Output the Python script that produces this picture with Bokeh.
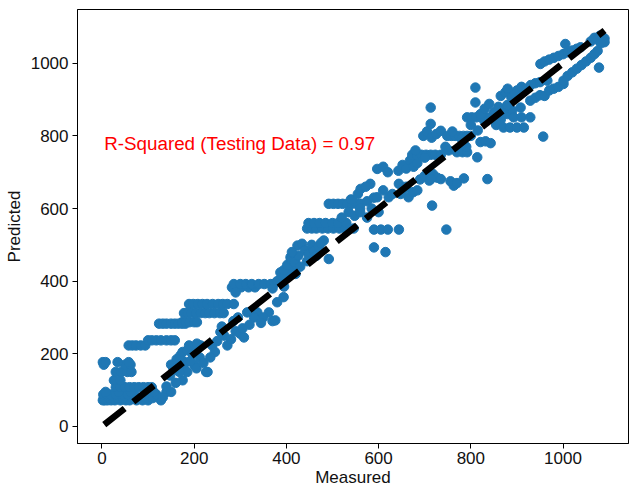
from bokeh.plotting import figure
from bokeh.models import Range1d, FixedTicker, Label, ColumnDataSource
from bokeh.embed import file_html
from bokeh.resources import INLINE

# ---- data ----
ticks = [0, 200, 400, 600, 800, 1000]
r2_text = "R-Squared (Testing Data) = 0.97"

# low region: (measured, predicted)
seg_low = [
    (2, 72), (6, 72), (12, 72), (20, 72), (28, 72), (40, 72), (52, 72), (60, 72), (75, 72), (88, 72), (100, 72), (128, 72),
    (4, 78), (16, 78), (24, 78), (34, 78), (46, 78), (66, 78), (82, 78), (95, 78), (110, 78),
    (3, 88), (10, 88), (18, 88), (30, 88), (44, 88), (56, 88), (70, 88), (92, 88), (118, 88),
    (8, 95), (36, 95), (62, 95), (112, 95), (140, 95),
    (30, 108), (40, 108), (50, 108), (60, 108), (70, 108), (80, 108), (90, 108), (100, 108), (108, 108),
    (26, 127), (40, 127), (175, 127),
    (30, 150), (42, 150), (55, 150), (64, 150), (229, 150),
    (4, 170), (50, 170), (62, 170), (150, 170), (200, 170),
    (2, 177), (8, 177), (34, 177), (58, 177), (180, 177),
    (148, 140), (155, 160), (162, 185), (170, 195), (178, 170), (185, 150), (192, 180), (198, 205),
    (205, 160), (212, 190), (220, 175), (226, 150), (160, 120), (175, 205), (150, 95), (140, 110),
    (132, 80), (168, 150),
    (58, 223), (66, 223), (74, 223), (84, 223), (94, 223), (189, 223), (214, 223),
    (100, 237), (108, 237), (118, 237), (128, 237), (140, 237), (150, 237), (158, 237),
    (124, 283), (132, 283), (140, 283), (150, 283), (158, 283), (166, 283), (174, 283), (181, 283),
    (174, 287), (182, 287), (190, 287), (200, 287), (206, 287),
    (178, 312), (186, 312), (194, 312), (204, 312), (214, 312), (224, 312), (233, 312), (244, 312), (256, 312), (264, 312),
    (189, 337), (198, 337), (208, 337), (218, 337), (228, 337), (240, 337), (252, 337), (262, 337), (272, 337), (286, 337),
    (185, 210), (196, 200), (206, 228), (239, 223), (250, 235), (257, 260), (265, 250), (272, 223),
    (280, 240), (290, 262), (300, 255), (308, 245), (245, 205), (235, 190), (260, 275), (285, 290),
    (295, 300), (315, 314), (337, 314), (362, 314), (350, 300), (370, 290), (376, 292), (330, 300),
    (345, 285), (320, 280), (305, 270),
]

seg_mid = [
    (282, 383), (292, 383), (302, 383), (318, 383), (332, 383),
    (286, 392), (300, 392), (312, 392), (325, 392), (340, 392), (352, 392), (366, 392), (373, 392),
    (290, 369), (380, 342), (394, 356), (387, 424), (409, 466), (424, 498), (400, 410), (415, 440),
    (380, 400), (370, 380), (395, 385), (405, 430), (418, 455), (390, 415),
    (394, 430), (402, 445), (410, 460), (418, 452), (426, 470), (434, 503), (440, 485), (448, 475),
    (455, 500), (460, 484), (470, 495), (481, 512), (492, 461), (420, 420), (430, 440), (412, 480),
    (445, 455), (465, 470), (475, 505),
    (445, 545), (455, 545), (465, 545), (478, 545), (490, 545), (502, 545), (515, 545), (528, 545), (546, 545),
    (448, 560), (460, 560), (472, 560), (485, 560), (500, 560), (512, 560), (530, 560),
    (590, 542), (605, 542), (620, 542), (644, 542),
    (590, 493), (615, 480),
    (492, 613), (502, 613), (512, 613), (522, 613), (532, 613), (542, 613), (552, 613), (561, 613),
    (560, 600), (575, 620), (590, 630), (597, 631), (622, 631), (582, 668), (561, 654), (572, 660),
    (597, 709), (644, 668), (610, 650), (630, 640), (600, 590), (520, 575), (535, 590), (548, 580),
    (560, 590), (575, 575), (585, 600), (540, 625), (555, 640),
]

seg_upper = [
    (610, 715), (620, 700),
    (643, 704), (652, 720), (660, 710), (668, 732), (676, 715), (684, 725),
    (690, 680), (700, 690), (710, 677), (718, 695), (727, 685),
    (648, 640), (656, 655), (665, 631), (675, 645), (684, 650), (660, 660),
    (713, 681), (735, 681), (763, 663), (836, 681), (716, 608), (747, 542),
    (756, 675), (770, 670), (785, 683),
    (673, 748), (683, 748), (693, 748), (703, 748), (713, 748), (723, 748), (735, 748),
    (680, 760), (700, 740),
    (770, 755), (782, 755), (792, 755), (814, 741),
    (697, 800), (705, 812), (715, 795), (725, 805), (735, 814),
    (749, 800), (758, 800), (766, 800), (775, 800), (784, 800), (792, 800), (800, 800),
    (760, 812), (780, 792),
    (821, 783), (832, 785), (843, 780),
    (792, 851), (802, 851), (812, 851), (822, 851), (832, 851), (842, 851), (852, 851), (864, 851),
    (713, 878), (713, 833), (810, 892), (810, 933),
    (745, 770), (752, 760), (790, 770),
    (800, 830), (815, 815), (830, 840), (845, 850), (855, 830), (865, 845), (880, 860), (890, 870),
]

seg_top = [
    (821, 860), (830, 875), (840, 888), (850, 865), (860, 880), (870, 870), (879, 885),
    (908, 878), (893, 851), (910, 851), (929, 851),
    (871, 823), (885, 823), (900, 823), (915, 823),
    (865, 910), (875, 920), (888, 906), (900, 925), (910, 935), (920, 930), (930, 940), (940, 945),
    (950, 948), (966, 952), (880, 930), (895, 915),
    (929, 897), (940, 905), (950, 912), (960, 910), (970, 925), (980, 930), (990, 935), (1001, 943),
    (951, 998), (960, 1005), (970, 1010), (980, 1015), (990, 1020), (1000, 1025), (1010, 1030),
    (1020, 1035), (1030, 1040), (1038, 1044),
    (1001, 952), (1010, 965), (1020, 975), (1030, 985), (1040, 995), (1050, 1005), (1060, 1015),
    (1068, 1025), (1075, 1034),
    (1005, 1053), (1078, 988), (957, 798),
    (1060, 1060), (1068, 1070), (1075, 1065), (1080, 1076), (1085, 1072), (1090, 1068), (1090, 1058), (1082, 1055),
]

line_min = 5
line_max = 1090

# ---- build ----
all_pts = seg_low + seg_mid + seg_upper + seg_top
measured = [p[0] for p in all_pts]
predicted = [p[1] for p in all_pts]
src = ColumnDataSource(data=dict(measured=measured, predicted=predicted))

FONT = "Liberation Sans"

p = figure(frame_width=551, frame_height=434, output_backend="svg", toolbar_location=None,
           x_range=Range1d(-53, 1142), y_range=Range1d(-47, 1148),
           min_border_left=77, min_border_right=1, min_border_top=9, min_border_bottom=47)
p.background_fill_color = "white"
p.border_fill_color = "white"
p.outline_line_color = "black"
p.outline_line_width = 1
p.grid.visible = False

for ax in (p.xaxis[0], p.yaxis[0]):
    ax.ticker = FixedTicker(ticks=ticks)
    ax.minor_tick_line_color = None
    ax.major_tick_in = 0
    ax.major_tick_out = 5
    ax.major_tick_line_color = "black"
    ax.axis_line_color = "black"
    ax.major_label_text_font = FONT
    ax.major_label_text_font_size = "17px"
    ax.major_label_text_color = "#111111"
    ax.axis_label_text_font = FONT
    ax.axis_label_text_font_size = "17px"
    ax.axis_label_text_font_style = "normal"
    ax.axis_label_text_color = "#111111"

p.xaxis.major_label_standoff = 3
p.yaxis.major_label_standoff = 4
p.xaxis.axis_label = "Measured"
p.yaxis.axis_label = "Predicted"
p.xaxis.axis_label_standoff = 1
p.yaxis.axis_label_standoff = 4

p.scatter("measured", "predicted", source=src, size=9.5, color="#1f77b4")
p.line([line_min, line_max], [line_min, line_max], line_color="black", line_width=6.5, line_dash="26 11")

p.add_layout(Label(x=5, y=778, text=r2_text, text_baseline="middle", text_align="left",
                   text_font=FONT, text_font_size="18.8px", text_color="red"))

open("out.html", "w").write(file_html(p, INLINE))
